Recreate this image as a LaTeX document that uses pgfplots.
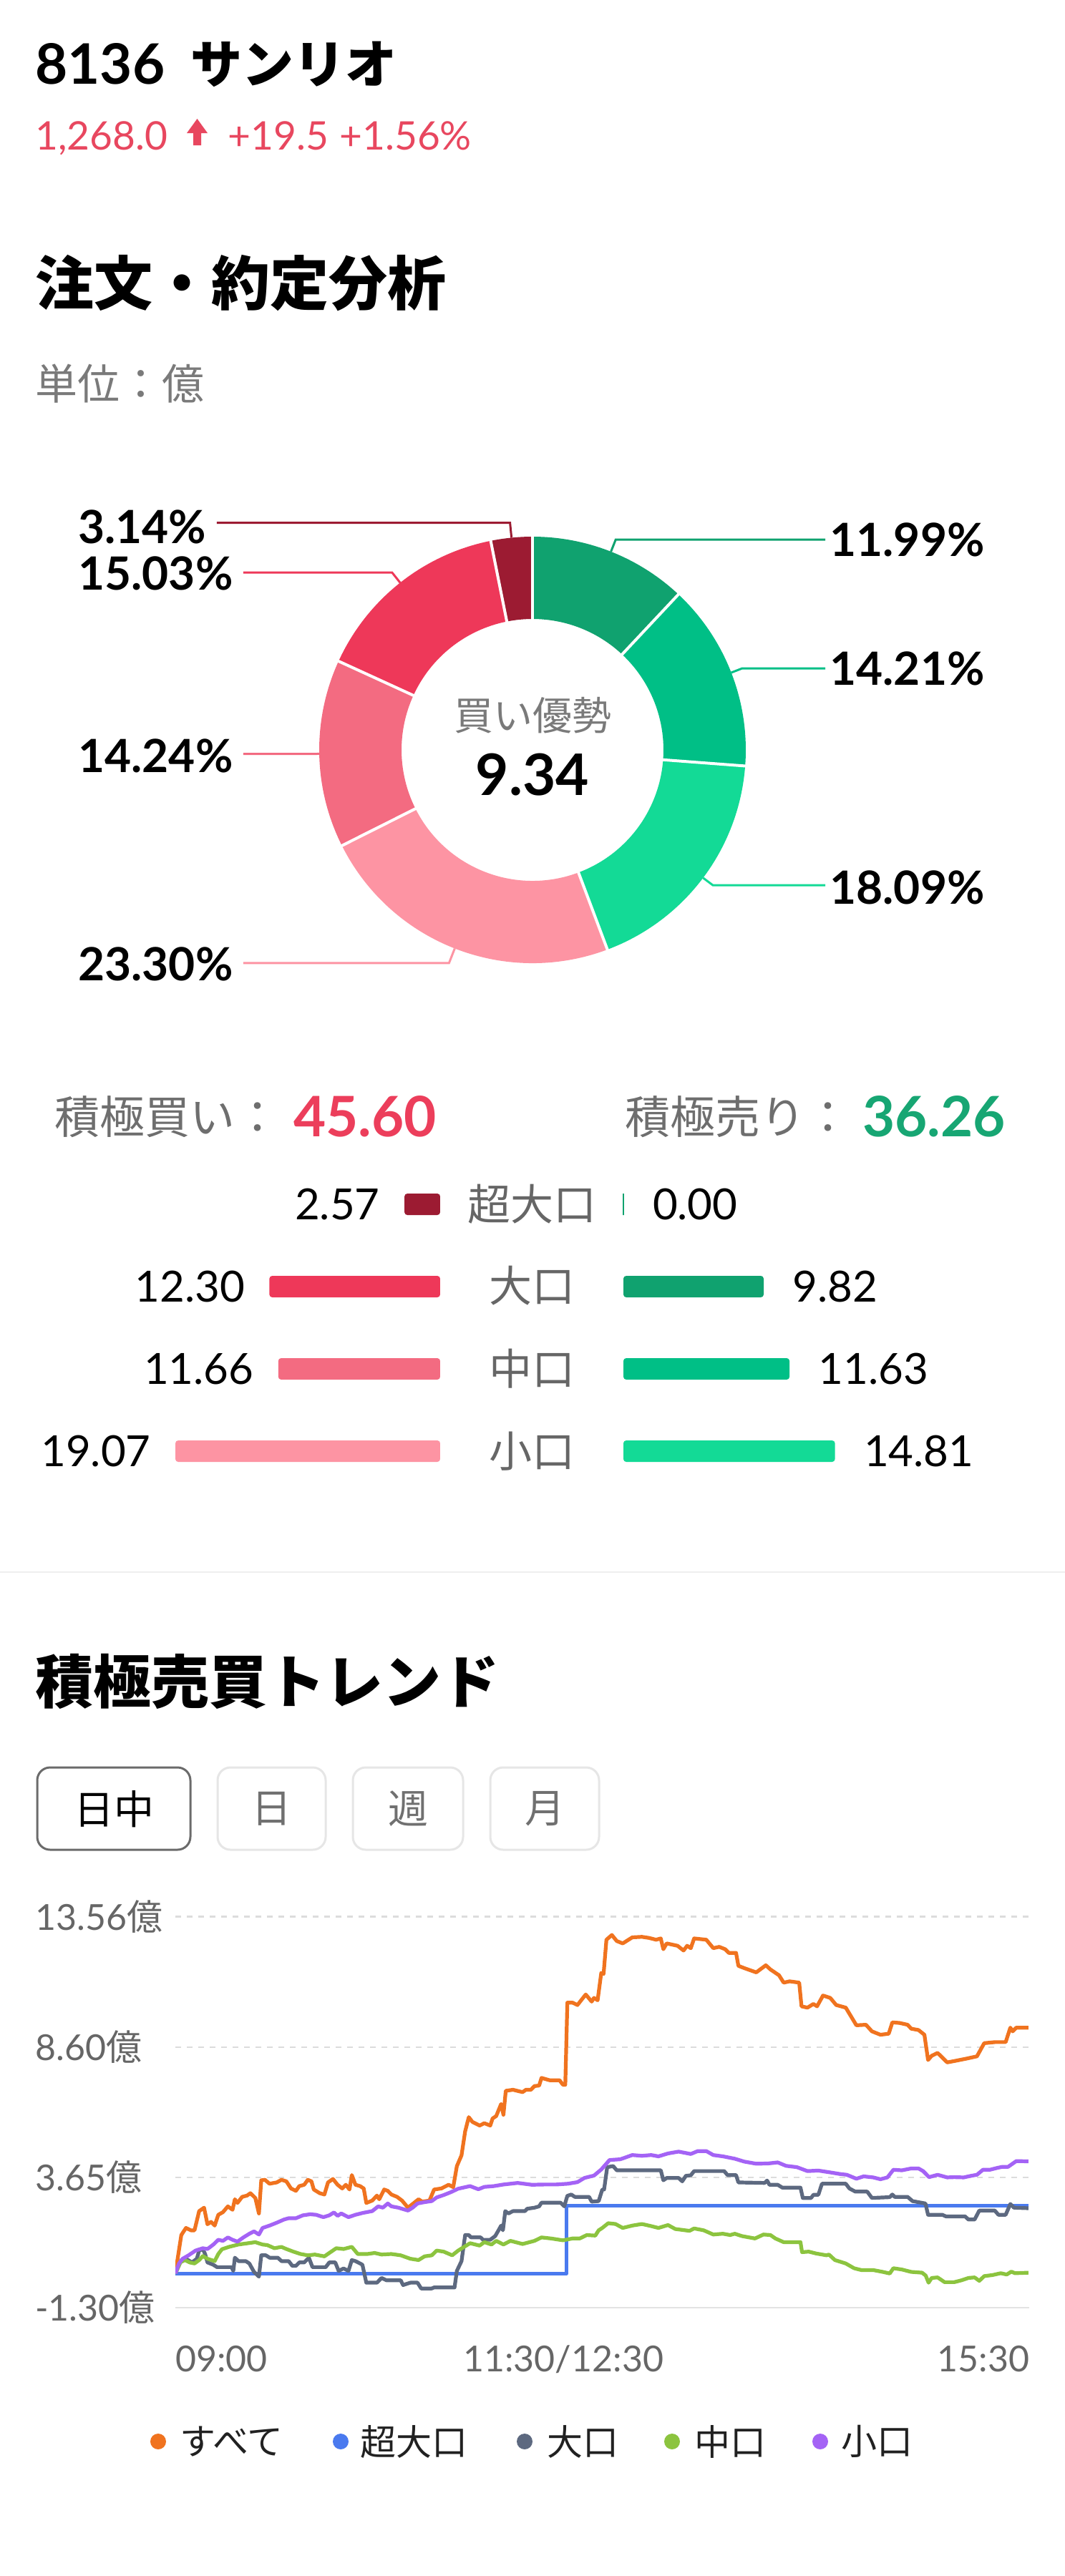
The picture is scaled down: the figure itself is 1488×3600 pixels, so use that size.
\documentclass[border=0pt]{standalone}
\usepackage{pgfplots}
\pgfplotsset{compat=1.18}
\usepackage{fontspec}
\setmainfont{Lato}
\newfontfamily\cjk{Noto Sans CJK JP}
\newcommand{\fs}[1]{\fontsize{#1}{#1}\selectfont}
\definecolor{priceRed}{HTML}{E8475F}
\definecolor{buyRed}{HTML}{EC3E5B}
\definecolor{sellGreen}{HTML}{17A673}
\definecolor{sellL}{HTML}{10A26F}
\definecolor{sellM}{HTML}{00BF86}
\definecolor{sellS}{HTML}{13DA96}
\definecolor{buyS}{HTML}{FD94A3}
\definecolor{buyM}{HTML}{F36B81}
\definecolor{buyL}{HTML}{EE3859}
\definecolor{buyXL}{HTML}{9C1B32}
\definecolor{labelGray}{HTML}{7A7A7A}
\definecolor{sumGray}{HTML}{6E6E6E}
\definecolor{rowGray}{HTML}{666666}
\definecolor{tickGray}{HTML}{666666}
\definecolor{gridGray}{HTML}{DCDCDC}
\definecolor{baseGray}{HTML}{E3E3E3}
\definecolor{sepGray}{HTML}{EEEEEE}
\definecolor{btnDark}{HTML}{6B6B6B}
\definecolor{btnLight}{HTML}{E6E6E6}
\definecolor{btnText}{HTML}{707070}
\definecolor{allC}{HTML}{F0731F}
\definecolor{xlC}{HTML}{4A7AEF}
\definecolor{lC}{HTML}{5D6980}
\definecolor{mC}{HTML}{8CC43F}
\definecolor{sC}{HTML}{A463F5}
\begin{document}
\begin{tikzpicture}[x=0.5pt,y=-0.5pt]
\path[use as bounding box, fill=white] (0,0) rectangle (1488,3600);

% ---------- header ----------
\node[anchor=base west, inner sep=0] at (49,117) {\fs{39pt}\bfseries 8136};
\node[anchor=base west, inner sep=0] at (266,116) {\fs{36pt}\cjk\bfseries サンリオ};
\node[anchor=base west, inner sep=0, text=priceRed] at (49,209) {\fs{27.5pt}1,268.0};
\fill[priceRed] (275.5,166) -- (290,186) -- (281,186) -- (281,203) -- (270,203) -- (270,186) -- (261,186) -- cycle;
\node[anchor=base west, inner sep=0, text=priceRed] at (318,209) {\fs{27.5pt}+19.5};
\node[anchor=base west, inner sep=0, text=priceRed] at (474,209) {\fs{27.5pt}+1.56\%};

\node[anchor=base west, inner sep=0] at (49,426) {\fs{41pt}\cjk\bfseries 注文・約定分析};
\node[anchor=base west, inner sep=0, text=labelGray] at (49,558) {\fs{29.5pt}\cjk 単位：億};

% ---------- donut ----------
\gdef\cum{0}
\foreach \p/\col/\k/\ly/\side in {11.99/sellL/18/754/r, 14.21/sellM/16/934/r, 18.09/sellS/17/1240/r, 23.30/buyS/22/1347/l, 14.24/buyM/10/1056/l, 15.03/buyL/18/801/l, 3.14/buyXL/21/736/l}{
  \pgfmathsetmacro{\pa}{\cum}
  \pgfmathsetmacro{\pb}{\cum+\p}
  \xdef\cum{\pb}
  \pgfmathsetmacro{\aS}{90-3.6*\pa}
  \pgfmathsetmacro{\aE}{90-3.6*\pb}
  \pgfmathsetmacro{\aM}{90-1.8*(\pa+\pb)}
  \fill[\col] (744,1048) ++(\aS:149pt) arc[start angle=\aS, end angle=\aE, radius=149pt] -- ++(\aE:-57.5pt) arc[start angle=\aE, end angle=\aS, radius=91.5pt] -- cycle;
  \if r\side
    \node[anchor=east, inner sep=0] (T) at (1376,\ly) {\fs{32pt}\bfseries \p\%};
    \draw[\col, line width=1.5pt, shorten >=3pt] (744,1048) ++(\aM:149pt) -- ++(\aM:{\k*0.5pt}) coordinate (E) -- (E -| T.west);
  \else
    \node[anchor=west, inner sep=0] (T) at (109,\ly) {\fs{32pt}\bfseries \p\%};
    \draw[\col, line width=1.5pt, shorten >=7pt] (744,1048) ++(\aM:149pt) -- ++(\aM:{\k*0.5pt}) coordinate (E) -- (E -| T.east);
  \fi
}
\gdef\cum{0}
\foreach \p in {11.99, 14.21, 18.09, 23.30, 14.24, 15.03, 3.14}{
  \pgfmathsetmacro{\aS}{90-3.6*\cum}
  \pgfmathsetmacro{\pb}{\cum+\p}
  \xdef\cum{\pb}
  \draw[white, line width=2pt] (744,1048) ++(\aS:90pt) -- ++(\aS:60pt);
}
\node[text=labelGray] at (744,1000) {\fs{27.5pt}\cjk 買い優勢};
\node at (744,1083) {\fs{40pt}\bfseries 9.34};

% ---------- summary ----------
\node[anchor=base west, inner sep=0, text=sumGray] at (76,1584) {\fs{31.5pt}\cjk 積極買い：};
\node[anchor=base west, inner sep=0, text=buyRed] at (410,1588) {\fs{39pt}\bfseries 45.60};
\node[anchor=base west, inner sep=0, text=sumGray] at (873,1584) {\fs{31.5pt}\cjk 積極売り：};
\node[anchor=base west, inner sep=0, text=sellGreen] at (1205,1588) {\fs{39pt}\bfseries 36.26};

\foreach \lab/\yy in {超大口/1683, 大口/1797, 中口/1913, 小口/2028}
  \node[text=rowGray, inner sep=0] at (743,\yy) {\fs{30pt}\cjk \lab};

\begin{scope}[x=1cm,y=1cm]
% buy bars
\begin{axis}[
  at={(307.5pt,-812.75pt)}, anchor=north east,
  x=9.7pt, y=57.5pt, x dir=reverse, y dir=reverse,
  xmin=0, xmax=20, ymin=-0.5, ymax=3.5,
  hide axis, clip=false,
  xbar, bar width=15pt, bar shift=0pt,
  point meta=x,
  /pgf/number format/assume math mode=true,
  nodes near coords={\pgfmathprintnumber[fixed,fixed zerofill,precision=2]{\pgfplotspointmeta}},
  every node near coord/.append style={anchor=east, xshift=-17pt, inner sep=0pt, font={\fs{30pt}}, text=black},
  every axis plot/.append style={draw=none, rounded corners=2pt},
]
\addplot[fill=buyXL] coordinates {(2.57,0)};
\addplot[fill=buyL] coordinates {(12.30,1)};
\addplot[fill=buyM] coordinates {(11.66,2)};
\addplot[fill=buyS] coordinates {(19.07,3)};
\end{axis}
% sell bars
\begin{axis}[
  at={(435.5pt,-812.75pt)}, anchor=north west,
  x=9.98pt, y=57.5pt, y dir=reverse,
  xmin=0, xmax=20, ymin=-0.5, ymax=3.5,
  hide axis, clip=false,
  xbar, bar width=15pt, bar shift=0pt,
  point meta=x,
  /pgf/number format/assume math mode=true,
  nodes near coords={\pgfmathprintnumber[fixed,fixed zerofill,precision=2]{\pgfplotspointmeta}},
  every node near coord/.append style={anchor=west, xshift=20pt, inner sep=0pt, font={\fs{30pt}}, text=black},
  every axis plot/.append style={draw=none, rounded corners=2pt},
]
\addplot[fill=sellL, draw=sellL, line width=1pt, sharp corners] coordinates {(0.00,0)};
\addplot[fill=sellL] coordinates {(9.82,1)};
\addplot[fill=sellM] coordinates {(11.63,2)};
\addplot[fill=sellS] coordinates {(14.81,3)};
\end{axis}
\end{scope}

% ---------- trend section ----------
\fill[sepGray] (0,2196) rectangle (1488,2198);
\node[anchor=base west, inner sep=0] at (49,2380) {\fs{40.5pt}\cjk\bfseries 積極売買トレンド};

\draw[btnDark, line width=1.5pt, rounded corners=9pt] (52,2470) rectangle (266,2585);
\node at (159,2528) {\fs{28pt}\cjk 日中};
\draw[btnLight, line width=1.5pt, rounded corners=9pt] (304,2470) rectangle (455,2585);
\node[text=btnText] at (379.5,2528) {\fs{28pt}\cjk 日};
\draw[btnLight, line width=1.5pt, rounded corners=9pt] (493,2470) rectangle (647,2585);
\node[text=btnText] at (570,2528) {\fs{28pt}\cjk 週};
\draw[btnLight, line width=1.5pt, rounded corners=9pt] (685,2470) rectangle (837,2585);
\node[text=btnText] at (761,2528) {\fs{28pt}\cjk 月};

\begin{scope}[x=1cm,y=1cm]
\begin{axis}[
  at={(122.5pt,-1612.5pt)}, anchor=south west,
  scale only axis, width=596.5pt, height=273.3pt,
  xmin=0, xmax=330, ymin=-1.30, ymax=13.56,
  axis line style={draw=none},
  major tick length=0pt, tick style={draw=none},
  xtick={0,150,330},
  xticklabels={\rlap{09:00}, 11:30/12:30, \llap{15:30}},
  ytick={3.65,8.60,13.56},
  yticklabels={3.65{\cjk 億}, 8.60{\cjk 億}, 13.56{\cjk 億}},
  extra y ticks={-1.30},
  extra y tick labels={-1.30{\cjk 億}},
  ymajorgrids,
  major grid style={draw=gridGray, line width=1.2pt, dash pattern=on 4pt off 4pt},
  extra y tick style={grid=major, major grid style={draw=baseGray, line width=1.2pt, solid}},
  tick label style={font={\fs{25pt}}, text=tickGray, inner sep=0pt},
  yticklabel style={anchor=west, xshift=-98pt},
  xticklabel style={anchor=base, yshift=-44.5pt},
]
\addplot[draw=allC, line width=2.6pt, line join=round, mark=none] coordinates {(0,0) (2.3,1.46) (4.1,1.73) (6.0,1.64) (7.4,1.64) (9.2,2.37) (11.1,2.50) (12.4,1.87) (13.8,1.96) (15.2,1.82) (16.6,2.23) (18.4,2.33) (20.3,2.55) (22.1,2.42) (23.0,2.82) (24.0,2.68) (25.8,2.91) (27.7,2.96) (29.0,3.05) (30.9,2.87) (32.3,2.28) (33.2,3.54) (34.6,3.56) (36.4,3.41) (39.2,3.46) (41.0,3.56) (42.9,3.50) (44.7,3.23) (46.6,3.14) (47.9,3.32) (49.8,3.37) (51.2,3.56) (52.6,3.50) (53.5,3.19) (55.8,3.05) (57.6,3.00) (59.0,3.46) (60.9,3.59) (62.7,3.37) (64.5,3.23) (65.9,3.37) (67.3,3.19) (68.2,3.74) (69.6,3.37) (71.4,3.32) (72.8,3.23) (73.8,2.68) (76.1,2.77) (77.9,2.96) (78.8,2.82) (80.7,3.19) (82.1,3.14) (83.5,3.00) (85.7,2.91) (87.6,2.77) (89.9,2.50) (91.7,2.64) (94.0,2.82) (95.4,2.73) (98.2,2.77) (100.0,3.19) (102.8,3.23) (105.6,3.37) (107.4,3.28) (108.8,4.08) (110.6,4.49) (112.0,5.40) (113.4,5.94) (114.8,5.76) (117.6,5.62) (119.4,5.71) (121.7,5.62) (122.6,5.89) (124.0,5.98) (125.9,6.44) (126.8,6.03) (127.7,6.94) (130.5,6.98) (134.2,6.89) (135.5,6.98) (137.4,6.98) (138.8,7.12) (140.6,7.14) (141.5,7.43) (144.7,7.34) (148.5,7.34) (149.8,7.17) (150.7,7.17) (151.5,10.29) (153.5,10.29) (155.4,10.20) (158.6,10.60) (160.9,10.33) (161.8,10.47) (163.2,10.38) (164.6,11.42) (165.5,11.38) (166.6,12.68) (168.7,12.86) (170.6,12.63) (172.9,12.54) (176.6,12.77) (180.3,12.79) (183.0,12.75) (185.8,12.68) (187.6,12.73) (188.6,12.32) (189.9,12.54) (194.1,12.45) (196.4,12.27) (197.8,12.45) (199.2,12.36) (200.5,12.73) (205.2,12.68) (207.9,12.36) (210.2,12.41) (212.5,12.32) (213.9,12.18) (216.7,12.18) (217.6,11.69) (219.9,11.60) (224.5,11.44) (228.2,11.71) (230.0,11.55) (233.3,11.33) (235.1,11.05) (237.4,11.10) (241.1,11.05) (242.0,10.15) (244.3,10.10) (246.6,10.24) (248.0,10.15) (250.3,10.56) (253.1,10.47) (255.4,10.20) (259.1,10.10) (263.2,9.43) (266.9,9.45) (269.2,9.20) (272.5,9.07) (275.7,9.11) (277.1,9.54) (279.8,9.52) (283.0,9.45) (284.4,9.30) (287.2,9.25) (289.5,9.07) (290.9,8.11) (292.3,8.27) (294.6,8.38) (298.3,8.02) (301.0,8.07) (305.6,8.16) (309.8,8.25) (312.6,8.75) (316.7,8.79) (320.9,8.79) (322.7,9.34) (323.6,9.20) (325.0,9.34) (329.7,9.34)};
\addplot[draw=xlC, line width=2.6pt, line join=round, mark=none] coordinates {(0,0) (151.2,0) (151.2,2.57) (329.7,2.57)};
\addplot[draw=lC, line width=2.6pt, line join=round, mark=none] coordinates {(0,0) (2.3,0.51) (4.1,0.56) (6.4,0.42) (8.3,0.56) (9.2,0.87) (10.6,0.93) (11.5,0.74) (12.4,0.42) (14.7,0.33) (16.1,0.24) (21.7,0.24) (22.4,0.10) (23.0,0.60) (24.4,0.47) (27.2,0.47) (28.6,0.38) (30.4,0.06) (32.3,-0.12) (33.2,0.69) (35.0,0.69) (36.4,0.60) (39.6,0.60) (41.0,0.47) (43.8,0.47) (45.2,0.29) (46.6,0.29) (47.9,0.42) (49.8,0.42) (51.6,0.60) (53.0,0.24) (58.1,0.24) (59.5,0.42) (61.8,0.42) (63.1,0.10) (65.0,0.19) (66.9,0.10) (68.2,0.51) (69.6,0.47) (71.4,0.38) (72.3,0.33) (73.8,-0.35) (77.9,-0.35) (79.7,-0.17) (81.6,-0.26) (87.1,-0.26) (88.0,-0.44) (90.8,-0.35) (93.6,-0.35) (95.0,-0.57) (99.1,-0.57) (100.0,-0.53) (107.9,-0.53) (108.8,0.10) (110.6,0.47) (112.0,1.46) (113.4,1.46) (114.3,1.37) (118.0,1.37) (118.9,1.28) (121.7,1.28) (123.6,1.42) (124.9,1.64) (125.9,1.82) (126.6,1.64) (127.5,2.37) (128.7,2.28) (130.5,2.37) (135.1,2.37) (136.0,2.46) (138.8,2.50) (140.6,2.55) (141.5,2.69) (148.9,2.69) (150.3,2.55) (151.5,2.95) (153.0,3.00) (154.4,2.91) (159.9,2.91) (160.9,2.73) (163.6,2.75) (165.0,3.19) (165.7,3.19) (166.9,4.04) (169.2,4.08) (170.6,3.92) (187.6,3.92) (188.6,3.54) (189.9,3.63) (194.5,3.63) (195.9,3.50) (197.3,3.71) (199.2,3.73) (200.5,3.89) (212.1,3.89) (213.4,3.74) (216.7,3.74) (217.6,3.46) (227.7,3.44) (228.7,3.53) (229.6,3.37) (232.8,3.37) (234.6,3.26) (241.6,3.26) (242.5,2.87) (245.7,2.87) (246.6,2.99) (248.5,2.99) (249.9,3.41) (259.1,3.41) (260.5,3.23) (262.8,3.11) (267.4,3.11) (269.2,2.87) (276.1,2.90) (277.1,3.00) (278.0,2.91) (283.0,2.91) (284.9,2.75) (289.9,2.66) (290.9,2.23) (296.4,2.23) (297.8,2.17) (305.2,2.17) (306.5,2.05) (308.9,2.05) (310.7,2.39) (316.7,2.39) (318.1,2.23) (320.9,2.23) (322.7,2.64) (324.1,2.50) (329.7,2.48)};
\addplot[draw=mC, line width=2.6pt, line join=round, mark=none] coordinates {(0,0) (1.9,0.42) (3.7,0.51) (5.5,0.42) (7.4,0.38) (9.2,0.51) (10.6,0.66) (12.4,0.56) (15.2,0.47) (16.6,0.74) (18.0,0.92) (20.7,1.01) (24.4,1.10) (28.1,1.15) (30.9,1.19) (33.7,1.10) (35.5,1.08) (38.3,0.96) (41.0,1.01) (42.9,0.93) (45.6,0.83) (48.4,0.74) (51.2,0.69) (53.9,0.72) (57.6,0.65) (59.5,0.78) (62.2,0.96) (65.0,0.93) (68.2,1.01) (70.5,0.74) (74.2,0.74) (77.0,0.78) (79.7,0.72) (83.5,0.74) (87.1,0.69) (90.8,0.56) (94.0,0.51) (96.3,0.65) (99.1,0.69) (101.0,0.87) (103.7,0.83) (107.0,0.69) (109.3,0.87) (111.6,1.01) (113.9,1.15) (117.6,1.06) (119.4,1.19) (122.2,1.10) (124.0,1.24) (126.8,1.10) (129.5,1.24) (134.2,1.12) (138.8,1.24) (141.5,1.37) (145.2,1.33) (149.8,1.26) (153.5,1.33) (156.3,1.33) (159.0,1.46) (162.3,1.44) (163.6,1.64) (165.0,1.73) (167.3,1.91) (170.1,1.88) (172.9,1.73) (176.6,1.82) (180.3,1.88) (183.9,1.80) (186.7,1.73) (190.4,1.84) (193.2,1.69) (198.7,1.62) (200.5,1.71) (204.2,1.64) (207.9,1.48) (211.6,1.51) (214.4,1.46) (216.2,1.51) (219.0,1.42) (224.0,1.33) (227.3,1.48) (230.0,1.46) (231.9,1.33) (235.1,1.19) (241.6,1.19) (242.2,0.81) (244.8,0.83) (247.6,0.76) (251.7,0.69) (252.6,0.72) (254.9,0.51) (259.1,0.38) (262.3,0.20) (265.1,0.13) (269.7,0.13) (273.4,0.06) (276.1,0.00) (277.5,0.20) (280.8,0.15) (284.4,0.06) (288.6,0.03) (290.0,-0.08) (291.1,-0.35) (292.3,-0.17) (294.6,-0.15) (297.3,-0.33) (301.0,-0.33) (303.8,-0.26) (306.5,-0.17) (308.9,-0.15) (310.7,-0.28) (312.6,-0.10) (315.8,-0.06) (319.0,0.01) (321.3,-0.04) (323.1,0.07) (324.5,0.01) (329.7,0.03)};
\addplot[draw=sC, line width=2.6pt, line join=round, mark=none] coordinates {(0,0) (1.4,0.38) (2.8,0.56) (5.1,0.69) (7.8,0.87) (10.6,0.96) (12.4,0.93) (14.7,1.10) (16.6,1.28) (18.4,1.24) (20.3,1.37) (22.1,1.28) (24.0,1.21) (26.3,1.37) (28.6,1.51) (30.4,1.60) (32.3,1.48) (33.7,1.73) (36.4,1.82) (39.2,1.93) (42.0,2.05) (43.8,2.10) (46.6,2.10) (49.3,2.21) (52.1,2.25) (54.4,2.23) (57.2,2.14) (59.5,2.21) (61.3,2.32) (62.7,2.19) (64.1,2.28) (66.9,2.14) (69.6,2.23) (72.4,2.30) (76.1,2.37) (78.4,2.55) (80.2,2.50) (82.1,2.66) (83.5,2.55) (86.2,2.50) (89.9,2.39) (91.7,2.50) (93.6,2.66) (96.3,2.71) (99.1,2.75) (101.0,2.89) (103.7,2.98) (106.5,3.09) (109.3,3.22) (111.6,3.27) (113.9,3.32) (117.1,3.20) (119.4,3.29) (123.1,3.32) (126.8,3.38) (132.3,3.44) (137.8,3.37) (142.4,3.38) (147.1,3.38) (151.7,3.41) (155.4,3.47) (158.1,3.63) (161.8,3.72) (164.6,3.95) (167.8,4.31) (172.0,4.34) (176.6,4.50) (180.3,4.47) (183.9,4.50) (186.7,4.45) (190.4,4.56) (194.5,4.63) (199.2,4.54) (201.9,4.65) (205.2,4.65) (207.9,4.50) (211.6,4.45) (216.2,4.36) (219.9,4.25) (224.5,4.17) (229.1,4.18) (232.8,4.22) (236.0,4.09) (240.2,4.04) (244.3,3.89) (248.5,3.91) (253.1,3.84) (256.8,3.78) (259.5,3.75) (263.2,3.60) (266.0,3.69) (269.7,3.65) (272.5,3.58) (275.2,3.65) (277.5,3.94) (280.8,3.92) (284.4,3.99) (287.2,3.99) (289.0,3.89) (291.3,3.66) (294.6,3.75) (298.3,3.65) (301.0,3.66) (304.7,3.65) (307.5,3.71) (309.8,3.75) (312.1,3.94) (314.8,3.94) (317.6,4.01) (319.5,4.05) (321.8,4.05) (325.0,4.27) (329.7,4.26)};
\end{axis}
\end{scope}

% ---------- legend ----------
\foreach \cx/\tx/\lab/\col in {221/251/すべて/allC, 476/503/超大口/xlC, 733/764/大口/lC, 939/970/中口/mC, 1146/1175/小口/sC}{
  \fill[\col] (\cx,3412) circle (5.5pt);
  \node[anchor=west, inner sep=0, text=black!87] at (\tx,3412) {\fs{25pt}\cjk \lab};
}
\end{tikzpicture}
\end{document}
